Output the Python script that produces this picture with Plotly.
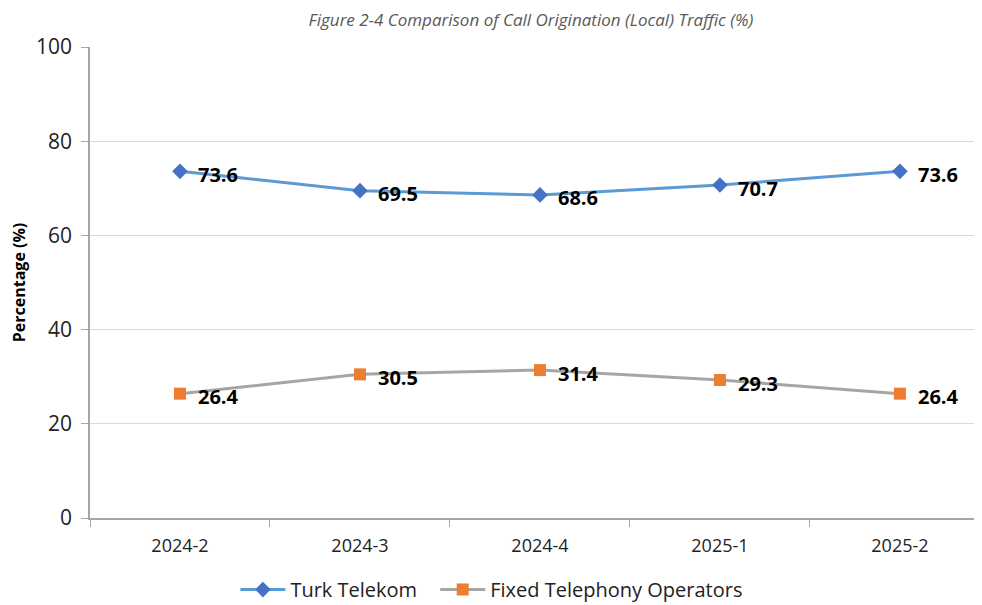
import plotly.graph_objects as go

quarters = ["2024-2", "2024-3", "2024-4", "2025-1", "2025-2"]
turk_telekom = [73.6, 69.5, 68.6, 70.7, 73.6]
fixed_operators = [26.4, 30.5, 31.4, 29.3, 26.4]

label_font = dict(size=20, color="black", family="Open Sans", weight="bold")

fig = go.Figure()

fig.add_trace(go.Scatter(
    x=quarters,
    y=turk_telekom,
    name="Turk Telekom",
    mode="lines+markers",
    line=dict(color="#5B9BD5", width=3),
    marker=dict(symbol="diamond", size=12, color="#4472C4"),
    legend="legend",
))

fig.add_trace(go.Scatter(
    x=quarters,
    y=fixed_operators,
    name="Fixed Telephony Operators",
    mode="lines+markers",
    line=dict(color="#A5A5A5", width=3),
    marker=dict(symbol="square", size=12, color="#ED7D31"),
    legend="legend2",
))

# data labels, to the right and a bit under each marker
for series in (turk_telekom, fixed_operators):
    for q, v in zip(quarters, series):
        fig.add_annotation(
            x=q, y=v, text=f"{v:.1f}", showarrow=False,
            xanchor="left", yanchor="middle", xshift=16, yshift=-3,
            font=label_font,
        )

legend_style = dict(
    orientation="h",
    xanchor="left",
    y=-0.152, yanchor="middle",
    font=dict(size=20, color="#222222"),
    itemwidth=45,
)

fig.update_layout(
    width=974,
    height=605,
    margin=dict(l=82, r=0, t=39, b=95),
    plot_bgcolor="white",
    paper_bgcolor="white",
    font=dict(family="Open Sans", color="#222222"),
    title=dict(
        text="<i>Figure 2-4 Comparison of Call Origination (Local) Traffic (%)</i>",
        x=0.537, xanchor="center", xref="container",
        y=1 - 12 / 605, yanchor="middle", yref="container",
        font=dict(size=17, color="#595959"),
    ),
    xaxis=dict(
        type="category",
        range=[-0.5, 4.456],
        showline=True, linecolor="#A6A6A6", linewidth=1.5,
        ticks="outside", ticklen=7, tickcolor="#A6A6A6",
        tickson="boundaries",
        ticklabelstandoff=11,
        showgrid=False,
        automargin=False,
        tickfont=dict(size=18, color="#222222"),
    ),
    yaxis=dict(
        range=[0, 100],
        dtick=20,
        showline=True, linecolor="#A6A6A6", linewidth=1.5,
        ticks="outside", ticklen=7, tickcolor="#A6A6A6",
        ticklabelstandoff=5,
        showgrid=True, gridcolor="#D9D9D9", gridwidth=1,
        zeroline=False,
        automargin=False,
        tickfont=dict(size=21, color="#222222"),
        title=dict(text="<b>Percentage (%)</b>", font=dict(size=16, color="black"), standoff=12),
    ),
    legend=dict(x=0.163, **legend_style),
    legend2=dict(x=0.387, **legend_style),
    showlegend=True,
)

fig.write_html("out.html")
